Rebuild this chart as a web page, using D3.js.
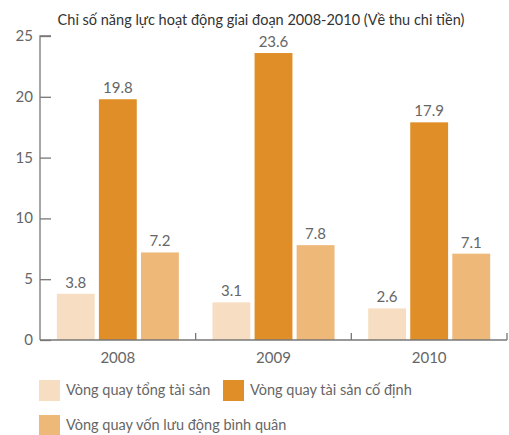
<!DOCTYPE html>
<html>
<head>
<meta charset="utf-8">
<script src="https://cdn.jsdelivr.net/npm/d3@7"></script>
<style>
  body { margin: 0; background: #fff; }
  text { font-family: Lato, "Noto Sans", sans-serif; }
</style>
</head>
<body>
<svg id="chart" width="509" height="435"></svg>
<script>
const years = ['2008', '2009', '2010'];
const seriesNames = ['Vòng quay tổng tài sản', 'Vòng quay tài sản cố định', 'Vòng quay vốn lưu động bình quân'];
const tongTaiSan = [3.8, 3.1, 2.6];
const taiSanCoDinh = [19.8, 23.6, 17.9];
const vonLuuDong = [7.2, 7.8, 7.1];
const yTicks = [0, 5, 10, 15, 20, 25];

const colors = ['#f7dec2', '#e08f28', '#eeb879'];
const series = [tongTaiSan, taiSanCoDinh, vonLuuDong];

const svg = d3.select('#chart');
const plotLeft = 40, plotRight = 507, plotTop = 36, plotBottom = 340;

// title
svg.append('text')
  .attr('x', 261)
  .attr('y', 25)
  .attr('text-anchor', 'middle')
  .style('font-size', '14.5px')
  .style('fill', '#333')
  .text('Chỉ số năng lực hoạt động giai đoạn 2008-2010 (Về thu chi tiền)');

const x = d3.scaleBand().domain(years).range([plotLeft, plotRight]).paddingInner(0).paddingOuter(0);
const xInner = d3.scaleBand().domain(d3.range(series.length)).range([0, x.bandwidth()]).paddingInner(0.1).paddingOuter(0.4);
const y = d3.scaleLinear().domain([0, 25]).range([plotBottom, plotTop]);

// bars
const groups = svg.selectAll('g.year')
  .data(years)
  .enter().append('g')
  .attr('class', 'year')
  .attr('transform', d => 'translate(' + x(d) + ',0)');

groups.each(function(yr, i) {
  const g = d3.select(this);
  series.forEach((s, j) => {
    g.append('rect')
      .attr('x', xInner(j))
      .attr('y', y(s[i]))
      .attr('width', xInner.bandwidth())
      .attr('height', plotBottom - y(s[i]))
      .attr('fill', colors[j]);
    g.append('text')
      .attr('x', xInner(j) + xInner.bandwidth() / 2)
      .attr('y', y(s[i]) - 6)
      .attr('text-anchor', 'middle')
      .style('font-size', '15px')
      .style('fill', '#666')
      .text(s[i]);
  });
});

// y axis
const yAxis = d3.axisRight(y).tickValues(yTicks).tickSize(11).tickFormat('');
const gy = svg.append('g').attr('transform', 'translate(' + plotLeft + ',0)').call(yAxis);
gy.select('.domain').attr('stroke', '#777').attr('stroke-width', 1.3).attr('d', 'M11,' + plotTop + 'H0V' + plotBottom);
gy.selectAll('.tick line').attr('stroke', '#777').attr('stroke-width', 1.3);

svg.selectAll('text.ylab')
  .data(yTicks)
  .enter().append('text')
  .attr('class', 'ylab')
  .attr('x', plotLeft - 7)
  .attr('y', d => y(d) + 5)
  .attr('text-anchor', 'end')
  .style('font-size', '15px')
  .style('fill', '#666')
  .text(d => d);

// x axis
const xAxis = d3.axisTop(x).tickSize(0).tickFormat('');
const gx = svg.append('g').attr('transform', 'translate(0,' + plotBottom + ')').call(xAxis);
gx.select('.domain').attr('stroke', '#777').attr('stroke-width', 1.3).attr('d', 'M' + plotLeft + ',0H' + plotRight);
gx.selectAll('.sep')
  .data(years)
  .enter().append('line')
  .attr('class', 'sep')
  .attr('x1', d => x(d) + x.bandwidth())
  .attr('x2', d => x(d) + x.bandwidth())
  .attr('y1', 0)
  .attr('y2', -7)
  .attr('stroke', '#777')
  .attr('stroke-width', 1.3);

svg.selectAll('text.xlab')
  .data(years)
  .enter().append('text')
  .attr('class', 'xlab')
  .attr('x', d => x(d) + x.bandwidth() / 2)
  .attr('y', 363)
  .attr('text-anchor', 'middle')
  .style('font-size', '15px')
  .style('fill', '#666')
  .text(d => d);

// legend
const legendPos = [[39, 380], [223, 380], [39, 415]];
const legend = svg.selectAll('g.legend')
  .data(seriesNames)
  .enter().append('g')
  .attr('class', 'legend')
  .attr('transform', (d, i) => 'translate(' + legendPos[i][0] + ',' + legendPos[i][1] + ')');
legend.append('rect')
  .attr('width', 21)
  .attr('height', 21)
  .attr('fill', (d, i) => colors[i]);
legend.append('text')
  .attr('x', 27)
  .attr('y', 15)
  .style('font-size', '14.5px')
  .style('fill', '#666')
  .text(d => d);
</script>
</body>
</html>
